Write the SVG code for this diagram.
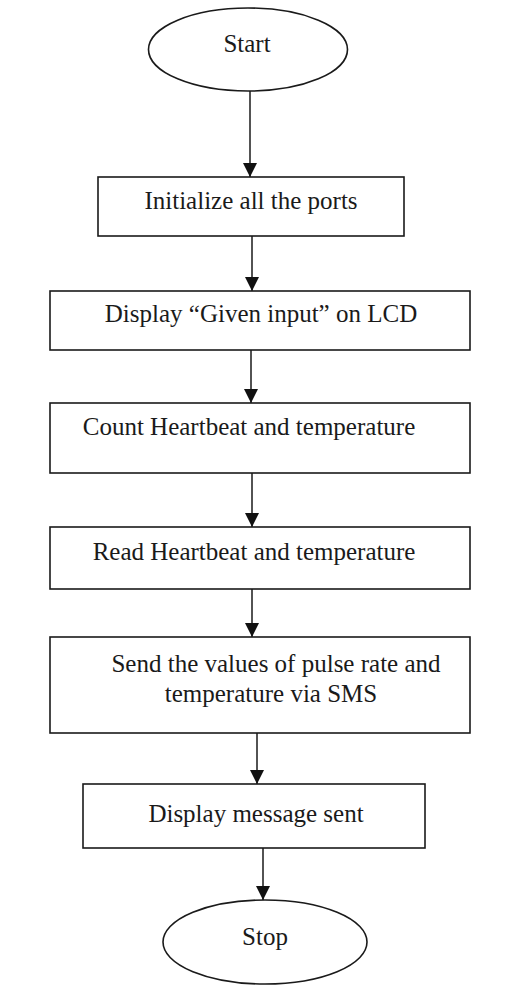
<svg xmlns="http://www.w3.org/2000/svg" width="515" height="988" viewBox="0 0 515 988">
<style>
.box{fill:#fff;stroke:#1a1a1a;stroke-width:1.6}
.t{font-family:'Liberation Serif','DejaVu Serif',serif;font-size:25px;fill:#1a1a1a;text-anchor:middle}
.c{stroke:#1a1a1a;stroke-width:1.5;fill:none}
</style>
<defs>
<marker id="ah" markerUnits="userSpaceOnUse" markerWidth="14" markerHeight="14" refX="13" refY="6.5" orient="auto" viewBox="0 0 13 13">
<path d="M0,0 L13,6.5 L0,13 Z" fill="#111"/>
</marker>
</defs>
<rect width="515" height="988" fill="#fff"/>
<g id="connectors">
<line class="c" x1="250" y1="91" x2="250" y2="177" marker-end="url(#ah)"/>
<line class="c" x1="252" y1="236" x2="252" y2="291" marker-end="url(#ah)"/>
<line class="c" x1="251" y1="350" x2="251" y2="403" marker-end="url(#ah)"/>
<line class="c" x1="252" y1="473" x2="252" y2="527" marker-end="url(#ah)"/>
<line class="c" x1="252" y1="589" x2="252" y2="637" marker-end="url(#ah)"/>
<line class="c" x1="257" y1="733" x2="257" y2="784" marker-end="url(#ah)"/>
<line class="c" x1="263" y1="848" x2="263" y2="900" marker-end="url(#ah)"/>
</g>
<g id="start">
<ellipse class="box" cx="248" cy="49.5" rx="99.5" ry="41.5"/>
<text class="t" x="247" y="52" font-family="Liberation Serif, serif">Start</text>
</g>
<g id="init">
<rect class="box" x="98" y="177" width="306" height="59"/>
<text class="t" x="251" y="209" font-family="Liberation Serif, serif">Initialize all the ports</text>
</g>
<g id="display-input">
<rect class="box" x="50" y="291" width="420" height="59"/>
<text class="t" x="261" y="322" font-family="Liberation Serif, serif">Display “Given input” on LCD</text>
</g>
<g id="count">
<rect class="box" x="50" y="403" width="420" height="70"/>
<text class="t" x="249" y="435" font-family="Liberation Serif, serif">Count Heartbeat and temperature</text>
</g>
<g id="read">
<rect class="box" x="50" y="527" width="420" height="62"/>
<text class="t" x="254" y="560" font-family="Liberation Serif, serif">Read Heartbeat and temperature</text>
</g>
<g id="send">
<rect class="box" x="50" y="637" width="420" height="96"/>
<text class="t" x="276" y="672" font-family="Liberation Serif, serif">Send the values of pulse rate and</text>
<text class="t" x="271" y="702" font-family="Liberation Serif, serif">temperature via SMS</text>
</g>
<g id="display-sent">
<rect class="box" x="83" y="784" width="342" height="64"/>
<text class="t" x="256" y="822" font-family="Liberation Serif, serif">Display message sent</text>
</g>
<g id="stop">
<ellipse class="box" cx="265" cy="942" rx="102" ry="42"/>
<text class="t" x="265" y="945" font-family="Liberation Serif, serif">Stop</text>
</g>
</svg>
